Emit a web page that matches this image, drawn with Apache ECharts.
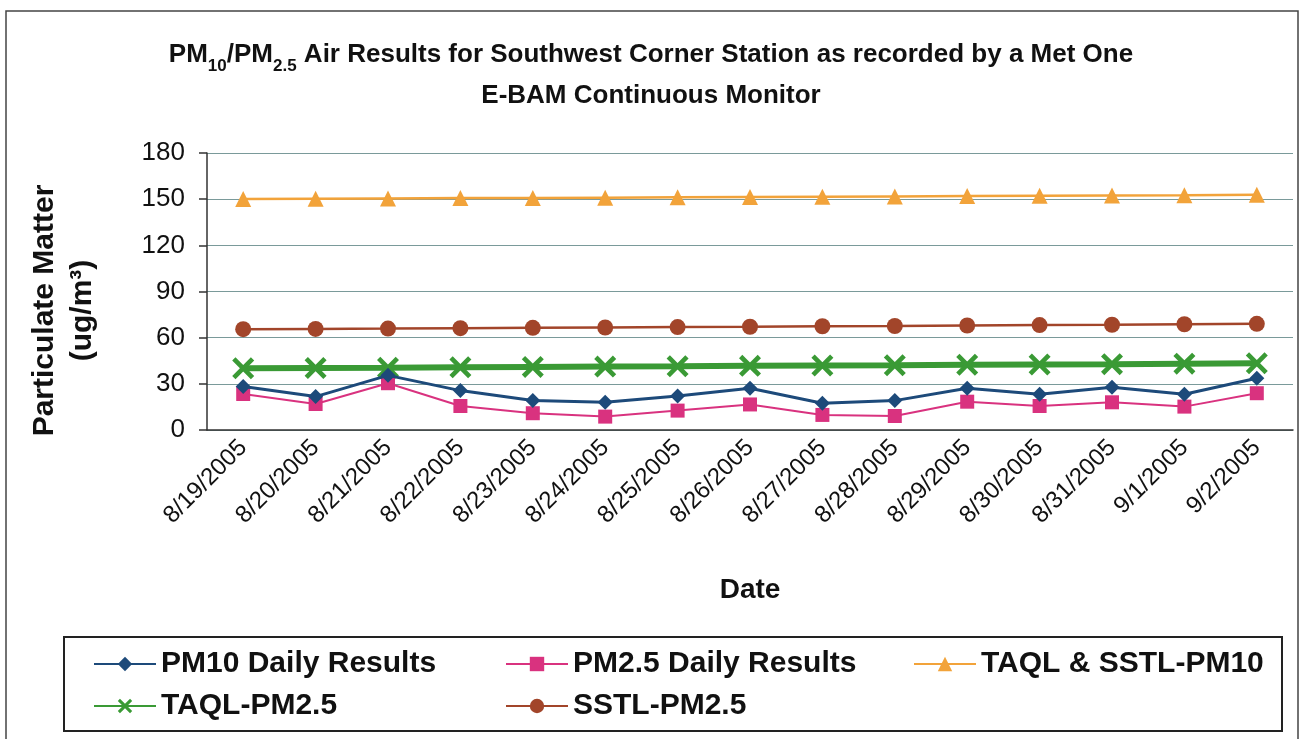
<!DOCTYPE html>
<html>
<head>
<meta charset="UTF-8">
<title>PM10/PM2.5 Air Results</title>
<style>
  html, body { margin: 0; padding: 0; background: #fff; }
  #chart { width: 1302px; height: 739px; }
</style>
<script src="https://cdn.jsdelivr.net/npm/echarts@6/dist/echarts.min.js"></script>
</head>
<body>
<div id="chart"></div>
<script>
// dates on the x axis
var dates = ['8/19/2005', '8/20/2005', '8/21/2005', '8/22/2005', '8/23/2005', '8/24/2005',
  '8/25/2005', '8/26/2005', '8/27/2005', '8/28/2005', '8/29/2005', '8/30/2005',
  '8/31/2005', '9/1/2005', '9/2/2005'];

// values (ug/m3)
var pm10Daily = [28.2, 21.7, 35.5, 25.6, 19.1, 18.0, 22.1, 27.1, 17.4, 19.1, 27.1, 23.2, 27.8, 23.2, 33.6];
var pm25Daily = [23.4, 16.9, 30.4, 15.6, 10.9, 8.7, 12.6, 16.6, 9.8, 9.1, 18.4, 15.6, 18.0, 15.2, 23.9];
var taqlSstlPm10 = [150.1, 150.3, 150.5, 150.7, 150.8, 151.0, 151.2, 151.4, 151.6, 151.8, 152.0, 152.2, 152.4, 152.6, 152.9];
var taqlPm25 = [40.1, 40.3, 40.5, 40.8, 41.0, 41.2, 41.4, 41.7, 41.9, 42.1, 42.4, 42.6, 42.8, 43.1, 43.4];
var sstlPm25 = [65.5, 65.7, 65.9, 66.2, 66.4, 66.6, 66.9, 67.1, 67.4, 67.6, 67.9, 68.2, 68.4, 68.7, 69.0];

var xMark = 'path://M0,1.5 L1.5,0 L5,3.5 L8.5,0 L10,1.5 L6.5,5 L10,8.5 L8.5,10 L5,6.5 L1.5,10 L0,8.5 L3.5,5 Z';

var chart = echarts.init(document.getElementById('chart'));
var font = 'Liberation Sans, Arial, sans-serif';

var legendText = { fontFamily: font, fontSize: 30, fontWeight: 'bold', color: '#111' };

var option = {
  backgroundColor: '#fff',
  animation: false,
  textStyle: { fontFamily: font },
  title: {
    text: '{b|PM}{s|10}{b|/PM}{s|2.5}{b| Air Results for Southwest Corner Station as recorded by a Met One}\n{b|E-BAM Continuous Monitor}',
    left: 'center',
    top: 29,
    textStyle: {
      rich: {
        b: { fontFamily: font, fontSize: 26, fontWeight: 'bold', color: '#111', lineHeight: 41 },
        s: { fontFamily: font, fontSize: 17, fontWeight: 'bold', color: '#111', verticalAlign: 'bottom', lineHeight: 41, padding: [14, 0, 0, 0] }
      }
    }
  },
  graphic: [
    { type: 'rect', shape: { x: 6, y: 11, width: 1292, height: 740 }, style: { fill: 'none', stroke: '#444', lineWidth: 1.5 } },
    { type: 'rect', shape: { x: 64, y: 637, width: 1218, height: 94 }, style: { fill: 'none', stroke: '#222', lineWidth: 2 } }
  ],
  legend: [
    { orient: 'vertical', left: 88, top: 644, itemWidth: 62, itemHeight: 18, itemGap: 12, textStyle: legendText,
      data: ['PM10 Daily Results', 'TAQL-PM2.5'] },
    { orient: 'vertical', left: 500, top: 644, itemWidth: 62, itemHeight: 18, itemGap: 12, textStyle: legendText,
      data: ['PM2.5 Daily Results', 'SSTL-PM2.5'] },
    { orient: 'vertical', left: 908, top: 644, itemWidth: 62, itemHeight: 18, itemGap: 12, textStyle: legendText,
      data: ['TAQL & SSTL-PM10'] }
  ],
  grid: { left: 207, right: 9, top: 153, bottom: 309 },
  xAxis: {
    type: 'category',
    data: dates,
    boundaryGap: true,
    name: 'Date',
    nameLocation: 'middle',
    nameGap: 146,
    nameTextStyle: { fontFamily: font, fontSize: 28, fontWeight: 'bold', color: '#111' },
    axisLine: { lineStyle: { color: '#333', width: 1.5 } },
    axisTick: { length: 8, lineStyle: { color: '#333', width: 1.5 } },
    axisLabel: { rotate: 45, fontFamily: font, fontSize: 24, color: '#111', margin: 14, interval: 0 }
  },
  yAxis: {
    type: 'value',
    min: 0,
    max: 180,
    interval: 30,
    name: 'Particulate Matter\n(ug/m\u00B3)',
    nameLocation: 'middle',
    nameGap: 105,
    nameRotate: 90,
    nameTextStyle: { fontFamily: font, fontSize: 30, fontWeight: 'bold', color: '#111', lineHeight: 38, padding: [0, 38, 0, 0] },
    axisLine: { show: true, lineStyle: { color: '#333', width: 1.5 } },
    axisTick: { show: true, length: 8, lineStyle: { color: '#333', width: 1.5 } },
    axisLabel: { fontFamily: font, fontSize: 26, color: '#111', margin: 22 },
    splitLine: { lineStyle: { color: '#7a9a9a', width: 1.2 } }
  },
  series: [
    { name: 'PM10 Daily Results', type: 'line', data: pm10Daily, symbol: 'diamond', symbolSize: 15,
      itemStyle: { color: '#1d4a7a' }, lineStyle: { color: '#1d4a7a', width: 3 }, z: 5 },
    { name: 'PM2.5 Daily Results', type: 'line', data: pm25Daily, symbol: 'rect', symbolSize: 14,
      itemStyle: { color: '#d9327f' }, lineStyle: { color: '#d9327f', width: 2 }, z: 4 },
    { name: 'TAQL & SSTL-PM10', type: 'line', data: taqlSstlPm10, symbol: 'triangle', symbolSize: 16,
      itemStyle: { color: '#f2a33a' }, lineStyle: { color: '#f2a33a', width: 2.5 } },
    { name: 'TAQL-PM2.5', type: 'line', data: taqlPm25, symbol: xMark, symbolSize: 22,
      itemStyle: { color: '#3a9a35' }, lineStyle: { color: '#3a9a35', width: 6 } },
    { name: 'SSTL-PM2.5', type: 'line', data: sstlPm25, symbol: 'circle', symbolSize: 16,
      itemStyle: { color: '#a2452a' }, lineStyle: { color: '#a2452a', width: 2.5 } }
  ]
};

chart.setOption(option);
</script>
</body>
</html>
